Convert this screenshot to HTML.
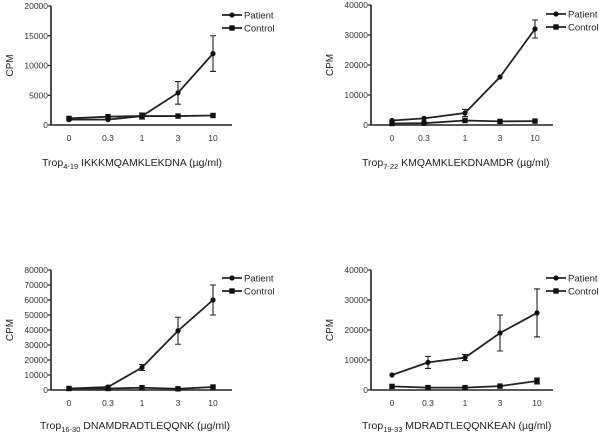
<!DOCTYPE html>
<html><head><meta charset="utf-8"><style>
body{margin:0;background:#fff;}
svg{display:block;font-family:"Liberation Sans",Arial,sans-serif;}
</style></head><body>
<svg id="c" width="600" height="434" viewBox="0 0 600 434"></svg>
<script>
const categories = ["0","0.3","1","3","10"];
const p1Patient = [900,900,1500,5400,12000];
const p1PatientErr = [0,0,500,1900,3000];
const p1Control = [1100,1400,1500,1500,1600];
const p1Ticks = [0,5000,10000,15000,20000];
const p2Patient = [1500,2200,4000,16000,32000];
const p2PatientErr = [0,0,1200,0,3000];
const p2Control = [500,600,1500,1200,1300];
const p2Ticks = [0,10000,20000,30000,40000];
const p3Patient = [1000,2000,15000,39500,60000];
const p3PatientErr = [0,0,2000,9000,10000];
const p3Control = [1000,1000,1500,800,2000];
const p3Ticks = [0,10000,20000,30000,40000,50000,60000,70000,80000];
const p4Patient = [5000,9200,10800,19000,25700];
const p4PatientErr = [0,2000,1000,6000,8000];
const p4Control = [1200,800,800,1300,3000];
const p4ControlErr = [0,0,0,0,1000];
const p4Ticks = [0,10000,20000,30000,40000];

const NS="http://www.w3.org/2000/svg";
const svg=document.getElementById('c');
function mk(tag,attrs,parent,text){const e=document.createElementNS(NS,tag);for(const k in attrs)e.setAttribute(k,attrs[k]);if(text!==undefined)e.textContent=text;parent.appendChild(e);return e;}

const panels=[
 {name:'panel-trop-4-19',ax:51,y0:125,ytop:6,xend:232,xs:[69,108,142,178,213],ticks:p1Ticks,pat:p1Patient,patErr:p1PatientErr,con:p1Control,conErr:[0,0,0,0,0],tx:42,ty:166,sub:'4-19',seq:'IKKKMQAMKLEKDNA',lx:222,ly:15,lab:141},
 {name:'panel-trop-7-22',ax:371,y0:125,ytop:5,xend:553,xs:[392,424,465,500,535],ticks:p2Ticks,pat:p2Patient,patErr:p2PatientErr,con:p2Control,conErr:[0,0,0,0,0],tx:362,ty:166,sub:'7-22',seq:'KMQAMKLEKDNAMDR',lx:546,ly:14,lab:141},
 {name:'panel-trop-16-30',ax:51,y0:390,ytop:270,xend:232,xs:[69,108,142,178,213],ticks:p3Ticks,pat:p3Patient,patErr:p3PatientErr,con:p3Control,conErr:[0,0,0,0,0],tx:40,ty:429,sub:'16-30',seq:'DNAMDRADTLEQQNK',lx:222,ly:278,lab:406},
 {name:'panel-trop-19-33',ax:371,y0:390,ytop:270,xend:553,xs:[392,428,465,500,537],ticks:p4Ticks,pat:p4Patient,patErr:p4PatientErr,con:p4Control,conErr:p4ControlErr,tx:362,ty:429,sub:'19-33',seq:'MDRADTLEQQNKEAN',lx:546,ly:278,lab:406}
];

panels.forEach(p=>{
 const g=mk('g',{},svg);
 
 
 const max=p.ticks[p.ticks.length-1];
 const y=v=>p.y0-(v/max)*(p.y0-p.ytop);
 const x=i=>p.xs[i];
 const ya=mk('line',{x1:p.ax,y1:p.ytop,x2:p.ax,y2:p.y0,stroke:'#222','stroke-width':1.6},g);
 
 const xa=mk('line',{x1:p.ax,y1:p.y0,x2:p.xend,y2:p.y0,stroke:'#222','stroke-width':1.6},g);
 
 p.ticks.forEach(t=>{
  mk('line',{x1:p.ax-3,y1:y(t),x2:p.ax,y2:y(t),stroke:'#222','stroke-width':1.2},g);
  const tl=mk('text',{x:p.ax-3,y:y(t)+3,'font-size':8.5,'text-anchor':'end',fill:'#333'},g,String(t));
  
 });
 categories.forEach((c,i)=>{
  const tl=mk('text',{x:x(i),y:p.lab,'font-size':8.5,'text-anchor':'middle',fill:'#333'},g,c);
  
 });
 const yt=mk('text',{x:0,y:0,'font-size':10,'text-anchor':'middle',fill:'#222',transform:`translate(${p.ax-38},${(p.y0+p.ytop)/2}) rotate(-90)`},g,'CPM');
 
 const xt=mk('text',{x:p.tx,y:p.ty,'font-size':10.5,fill:'#222'},g);
 
 mk('tspan',{},xt,'Trop');
 mk('tspan',{'font-size':7.5,dy:3},xt,p.sub);
 mk('tspan',{dy:-3},xt,' '+p.seq+' (µg/ml)');
 [[p.pat,p.patErr,'patient',true],[p.con,p.conErr,'control',false]].forEach(([vals,err,nm,circ])=>{
  const pl=mk('polyline',{points:vals.map((v,i)=>x(i)+','+y(v)).join(' '),fill:'none',stroke:'#222','stroke-width':1.8},g);
  
  vals.forEach((v,i)=>{
   if(err[i]>0){
    const eb=mk('path',{d:`M${x(i)},${y(v+err[i])}V${y(v-err[i])}M${x(i)-3},${y(v+err[i])}h6M${x(i)-3},${y(v-err[i])}h6`,stroke:'#222','stroke-width':1.1,fill:'none'},g);
    
   }
   const m=circ?mk('circle',{cx:x(i),cy:y(v),r:2.6,fill:'#111'},g):mk('rect',{x:x(i)-2.7,y:y(v)-2.7,width:5.4,height:5.4,fill:'#111'},g);
   
  });
 });
 [['Patient',true,0],['Control',false,13]].forEach(([t,circ,dy])=>{
  const lg=mk('g',{},g);
  
  const ly=p.ly+dy;
  mk('line',{x1:p.lx,y1:ly,x2:p.lx+20,y2:ly,stroke:'#222','stroke-width':1.8},lg);
  if(circ)mk('circle',{cx:p.lx+10,cy:ly,r:2.6,fill:'#111'},lg);else mk('rect',{x:p.lx+7.3,y:ly-2.7,width:5.4,height:5.4,fill:'#111'},lg);
  mk('text',{x:p.lx+22,y:ly+3.5,'font-size':9.5,fill:'#222'},lg,t);
 });
});
</script>
</body></html>
